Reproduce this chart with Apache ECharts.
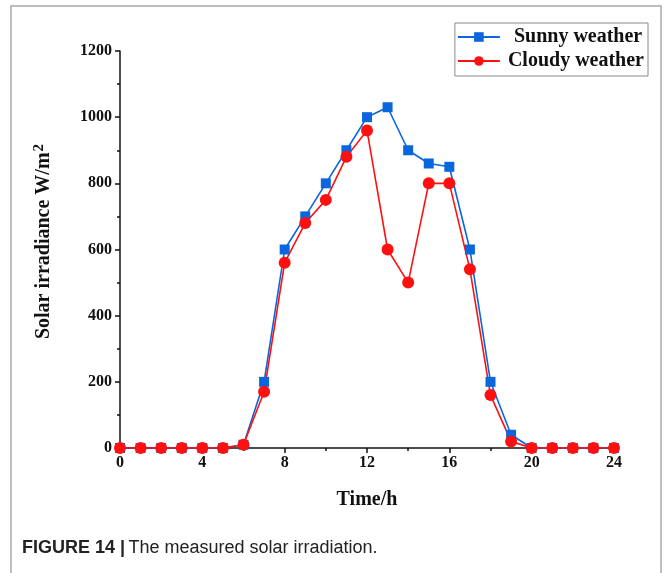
<!DOCTYPE html>
<html>
<head>
<meta charset="utf-8">
<script src="https://cdn.jsdelivr.net/npm/echarts@6/dist/echarts.min.js"></script>
<style>
  html, body { margin: 0; padding: 0; background: #ffffff; }
  #chart { width: 664px; height: 573px; }
</style>
</head>
<body>
<div id="chart"></div>
<script>
// Hour of day
const hours = [0, 1, 2, 3, 4, 5, 6, 7, 8, 9, 10, 11, 12, 13, 14, 15, 16, 17, 18, 19, 20, 21, 22, 23, 24];
// Solar irradiance, W/m2
const sunnyValues = [0, 0, 0, 0, 0, 0, 10, 200, 600, 700, 800, 900, 1000, 1030, 900, 860, 850, 600, 200, 40, 0, 0, 0, 0, 0];
const cloudyValues = [0, 0, 0, 0, 0, 0, 10, 170, 560, 680, 750, 880, 960, 600, 500, 800, 800, 540, 160, 20, 0, 0, 0, 0, 0];
const seriesNames = ['Sunny weather', 'Cloudy weather'];

const serif = '"Liberation Serif", "Times New Roman", serif';
const sans = '"Liberation Sans", Arial, sans-serif';
const blue = '#0a66dc';
const red = '#ff1010';

const pairs = (vals) => hours.map((h, i) => [h, vals[i]]);
const legendFont = { fontFamily: serif, fontWeight: 'bold', fontSize: 20, color: '#111' };

const chart = echarts.init(document.getElementById('chart'));
chart.setOption({
  backgroundColor: '#ffffff',
  animation: false,
  grid: { left: 120, right: 50, top: 51, bottom: 125 },
  legend: {
    right: 16, top: 23,
    orient: 'vertical',
    padding: [4, 4, 5, 2],
    itemGap: 4,
    itemWidth: 42, itemHeight: 12,
    borderColor: '#8a8a8a', borderWidth: 1,
    formatter: (name) => (name === seriesNames[0] ? '{s|' + name + '}' : '{c|' + name + '}'),
    textStyle: {
      ...legendFont,
      rich: {
        s: { ...legendFont, padding: [0, 0, 0, 9] },
        c: { ...legendFont, padding: [0, 0, 0, 3] }
      }
    },
    data: seriesNames
  },
  xAxis: {
    type: 'value', min: 0, max: 24, interval: 4,
    name: 'Time/h', nameLocation: 'middle', nameGap: 42,
    nameTextStyle: { fontFamily: serif, fontWeight: 'bold', fontSize: 20, color: '#111' },
    axisLine: { onZero: false, lineStyle: { color: '#111', width: 1.5 } },
    axisTick: { show: true, length: 5, lineStyle: { color: '#111', width: 1.5 } },
    minorTick: { show: true, splitNumber: 2, length: 3, lineStyle: { color: '#111', width: 1.5 } },
    axisLabel: { fontFamily: serif, fontWeight: 'bold', fontSize: 16, color: '#111', margin: 7 },
    splitLine: { show: false }
  },
  yAxis: {
    type: 'value', min: 0, max: 1200, interval: 200,
    name: 'Solar irradiance W/m{sup|2}', nameLocation: 'middle', nameGap: 64,
    nameTextStyle: {
      fontFamily: serif, fontWeight: 'bold', fontSize: 20, color: '#111',
      padding: [0, 0, 0, 16],
      rich: { sup: { fontFamily: serif, fontWeight: 'bold', fontSize: 15, color: '#111', verticalAlign: 'top', padding: [0, 0, 9, 1] } }
    },
    axisLine: { show: true, lineStyle: { color: '#111', width: 1.5 } },
    axisTick: { show: true, length: 5, lineStyle: { color: '#111', width: 1.5 } },
    minorTick: { show: true, splitNumber: 2, length: 3, lineStyle: { color: '#111', width: 1.5 } },
    axisLabel: { fontFamily: serif, fontWeight: 'bold', fontSize: 16, color: '#111', margin: 8, formatter: (v) => String(v) },
    splitLine: { show: false }
  },
  series: [
    {
      name: seriesNames[0], type: 'line', data: pairs(sunnyValues),
      symbol: 'rect', symbolSize: 10,
      lineStyle: { color: blue, width: 1.6 },
      itemStyle: { color: blue }
    },
    {
      name: seriesNames[1], type: 'line', data: pairs(cloudyValues),
      symbol: 'circle', symbolSize: 12,
      lineStyle: { color: red, width: 1.6 },
      itemStyle: { color: red }
    }
  ],
  graphic: [
    {
      type: 'rect', silent: true,
      shape: { x: 11, y: 6, width: 650, height: 580 },
      style: { fill: 'none', stroke: '#a8a8a8', lineWidth: 1.5 }
    },
    {
      type: 'text', left: 22, top: 539, silent: true,
      style: {
        text: '{b|FIGURE 14 |} {n|The measured solar irradiation.}',
        rich: {
          b: { fontFamily: sans, fontWeight: 'bold', fontSize: 18, fill: '#222' },
          n: { fontFamily: sans, fontSize: 18, fill: '#222' }
        }
      }
    }
  ]
});
</script>
</body>
</html>
